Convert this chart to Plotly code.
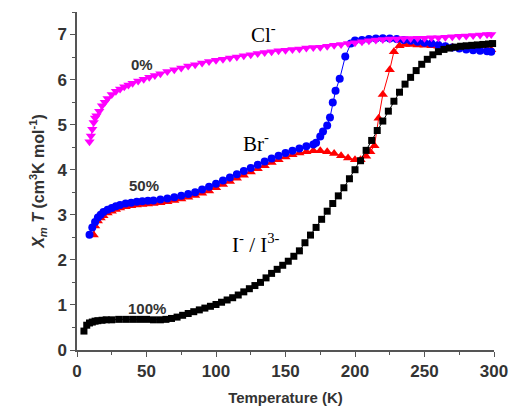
import plotly.graph_objects as go

# chi_m*T vs temperature for the three halide compositions

# 0 % (Cl-)
t_cl = [9, 10, 11, 12, 13, 14, 16, 18, 20, 22, 25, 28, 31, 34, 37, 40, 44, 48, 52, 56,
        60, 65, 70, 75, 80, 85, 90, 95, 100, 105, 110, 115, 120, 125, 130, 135, 140, 145,
        150, 155, 160, 165, 170, 175, 180, 185, 190, 195, 200, 205, 210, 215, 220, 225,
        230, 235, 240, 245, 250, 255, 260, 265, 270, 275, 280, 285, 290, 295, 298]
xt_cl = [4.62, 4.75, 4.9, 5.05, 5.15, 5.2, 5.3, 5.42, 5.5, 5.58, 5.67, 5.74, 5.79, 5.84,
         5.88, 5.92, 5.97, 6.01, 6.05, 6.09, 6.13, 6.18, 6.22, 6.26, 6.3, 6.33, 6.37,
         6.4, 6.43, 6.45, 6.48, 6.5, 6.53, 6.55, 6.58, 6.6, 6.62, 6.64, 6.65, 6.67, 6.68,
         6.7, 6.71, 6.72, 6.74, 6.76, 6.78, 6.8, 6.82, 6.84, 6.86, 6.88, 6.89, 6.9, 6.9,
         6.91, 6.91, 6.92, 6.92, 6.93, 6.93, 6.94, 6.95, 6.96, 6.97, 6.98, 6.99, 7.0, 7.0]

# 50 % (Br-), first run
t_br1 = [9, 11, 13, 15, 17, 19, 22, 25, 28, 31, 35, 39, 43, 47, 51, 55, 60, 65, 70, 75,
         80, 85, 90, 95, 100, 105, 110, 115, 120, 125, 130, 135, 140, 145, 150, 155, 160,
         165, 170, 172, 175, 177, 180, 182, 184, 186, 189, 193, 197, 200, 205, 210, 215,
         220, 225, 230, 235, 240, 245, 250, 255, 260, 265, 270, 275, 280, 285, 290, 295, 298]
xt_br1 = [2.56, 2.72, 2.84, 2.94, 3.0, 3.06, 3.11, 3.15, 3.19, 3.22, 3.25, 3.27, 3.29,
          3.3, 3.31, 3.32, 3.34, 3.36, 3.39, 3.42, 3.46, 3.5, 3.56, 3.62, 3.69, 3.76, 3.83,
          3.9, 3.97, 4.04, 4.11, 4.18, 4.25, 4.31, 4.37, 4.42, 4.47, 4.52, 4.56, 4.6, 4.74,
          4.85, 4.98, 5.16, 5.49, 5.75, 6.02, 6.51, 6.8, 6.87, 6.88, 6.9, 6.91, 6.92, 6.91,
          6.9, 6.88, 6.86, 6.84, 6.82, 6.8, 6.77, 6.74, 6.71, 6.69, 6.67, 6.65, 6.64, 6.63,
          6.62]

# 50 % (Br-), second run
t_br2 = [12, 13, 15, 17, 19, 22, 25, 28, 31, 35, 39, 43, 47, 51, 55, 60, 65, 70, 75, 80,
         85, 90, 95, 100, 105, 110, 115, 120, 125, 130, 135, 140, 145, 150, 155, 160, 165,
         170, 175, 180, 185, 190, 195, 200, 204, 208, 211, 214, 217, 220, 225, 228, 232,
         236, 240, 245, 250, 255, 260, 265, 270, 275, 280, 285, 290, 295, 298]
xt_br2 = [2.55, 2.75, 2.86, 2.93, 2.98, 3.04, 3.08, 3.12, 3.15, 3.18, 3.2, 3.22, 3.23,
          3.24, 3.25, 3.27, 3.29, 3.32, 3.35, 3.39, 3.43, 3.48, 3.53, 3.6, 3.67, 3.74, 3.81,
          3.88, 3.95, 4.02, 4.09, 4.16, 4.22, 4.28, 4.33, 4.37, 4.4, 4.42, 4.42, 4.4, 4.36,
          4.31, 4.26, 4.22, 4.22, 4.3, 4.4, 4.53, 5.14, 5.67, 6.22, 6.62, 6.75, 6.78, 6.78,
          6.77, 6.76, 6.75, 6.74, 6.73, 6.72, 6.71, 6.7, 6.69, 6.68, 6.67, 6.66]

# 100 % (I- / I3-)
t_i = [5, 7, 9, 11, 13, 15, 18, 21, 25, 30, 35, 40, 45, 50, 55, 60, 64, 68, 72, 76, 80,
       84, 88, 92, 96, 100, 104, 108, 112, 116, 120, 124, 128, 132, 136, 140, 144, 148,
       152, 156, 160, 164, 168, 172, 176, 180, 184, 188, 192, 196, 200, 204, 208, 212,
       216, 220, 224, 228, 232, 236, 240, 244, 248, 252, 256, 260, 264, 268, 272, 276,
       280, 284, 288, 292, 296, 299]
xt_i = [0.42, 0.55, 0.6, 0.62, 0.64, 0.65, 0.66, 0.67, 0.67, 0.68, 0.68, 0.68, 0.68,
        0.68, 0.67, 0.67, 0.68, 0.7, 0.73, 0.77, 0.81, 0.85, 0.89, 0.93, 0.97, 1.01, 1.06,
        1.11, 1.16, 1.22, 1.29, 1.36, 1.43, 1.5, 1.6, 1.7, 1.79, 1.88, 1.97, 2.08, 2.2,
        2.38, 2.55, 2.72, 2.9, 3.08, 3.25, 3.42, 3.6, 3.8, 4.0, 4.2, 4.43, 4.65, 4.87,
        5.08, 5.3, 5.52, 5.72, 5.9, 6.05, 6.2, 6.34, 6.45, 6.55, 6.62, 6.67, 6.7, 6.72,
        6.74, 6.75, 6.76, 6.77, 6.78, 6.79, 6.8]

x_ticks = [0, 50, 100, 150, 200, 250, 300]
y_ticks = [0, 1, 2, 3, 4, 5, 6, 7]

fig = go.Figure()


def add_series(t, v, color, symbol, size):
    fig.add_trace(go.Scatter(
        x=t, y=v, mode="lines+markers",
        line=dict(color=color, width=1),
        marker=dict(color=color, symbol=symbol, size=size, line=dict(width=0)),
        cliponaxis=False, showlegend=False,
    ))


add_series(t_br2, xt_br2, "#ff0000", "triangle-up", 9)
add_series(t_br1, xt_br1, "#0000ff", "circle", 8)
add_series(t_i, xt_i, "#000000", "square", 7)
add_series(t_cl, xt_cl, "#ff00ff", "triangle-down", 9)

pct_font = dict(family="Liberation Sans", size=15, color="#333333")
ion_font = dict(family="Liberation Serif", size=21, color="#000000")

notes = [
    (47, 6.34, "<b>0%</b>", pct_font),
    (48.5, 3.66, "<b>50%</b>", pct_font),
    (50, 0.93, "<b>100%</b>", pct_font),
    (134, 7.02, "Cl<sup>-</sup>", ion_font),
    (128.5, 4.6, "Br<sup>-</sup>", ion_font),
    (129, 2.36, "I<sup>-</sup> / I<sup>3-</sup>", ion_font),
]
for x, y, txt, f in notes:
    fig.add_annotation(x=x, y=y, text=txt, showarrow=False, font=f,
                       xanchor="center", yanchor="middle")

axis_common = dict(
    showline=True, linecolor="#555555", linewidth=1.5,
    ticks="outside", ticklen=5, tickwidth=1.2, tickcolor="#555555",
    showgrid=False, zeroline=False,
    tickfont=dict(family="Liberation Sans", size=17, color="#333333"),
)

fig.update_xaxes(
    range=[0, 300], tickvals=x_ticks,
    ticktext=[f"<b>{v}</b>" for v in x_ticks],
    minor=dict(ticks="outside", ticklen=3, dtick=25, tick0=0, tickcolor="#555555"),
    title=dict(text="<b>Temperature (K)</b>", standoff=12,
               font=dict(family="Liberation Sans", size=15, color="#333333")),
    **axis_common,
)
fig.update_yaxes(
    range=[0, 7.5], tickvals=y_ticks,
    ticktext=[f"<b>{v}</b>" for v in y_ticks],
    minor=dict(ticks="outside", ticklen=3, dtick=0.5, tick0=0, tickcolor="#555555"),
    title=dict(text="<b><i>X<sub>m</sub> T</i> (cm<sup>3</sup>K mol<sup>-1</sup>)</b>",
               standoff=9,
               font=dict(family="Liberation Sans", size=16, color="#333333")),
    **axis_common,
)

fig.update_layout(
    width=520, height=416,
    margin=dict(l=77, r=23, t=12, b=64),
    paper_bgcolor="white", plot_bgcolor="white",
)

fig.write_html("out.html")
